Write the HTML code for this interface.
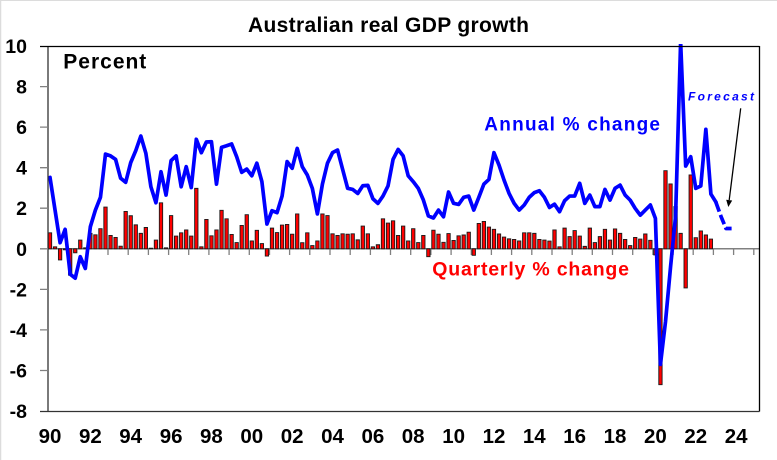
<!DOCTYPE html>
<html>
<head>
<meta charset="utf-8">
<style>
html,body{margin:0;padding:0;background:#fff;}
svg{display:block;}
.b rect{vector-effect:non-scaling-stroke;}
.ln{vector-effect:non-scaling-stroke;}
</style>
</head>
<body>
<svg width="777" height="460" viewBox="0 0 777 460" xmlns="http://www.w3.org/2000/svg" font-family="'Liberation Sans', Arial, sans-serif" font-weight="bold">
<defs>
<clipPath id="c"><rect x="48" y="44" width="711" height="367"/></clipPath>
</defs>
<rect x="0" y="0" width="777" height="460" fill="#fff"/>
<line x1="0" y1="0.5" x2="777" y2="0.5" stroke="#dcdcdc" stroke-width="1"/>
<line x1="0.5" y1="0" x2="0.5" y2="460" stroke="#dcdcdc" stroke-width="1.5"/>

<!-- zero line -->
<line x1="48" y1="248.8" x2="759" y2="248.8" stroke="#808080" stroke-width="1.5"/>
<!-- x ticks -->
<path stroke="#808080" stroke-width="1.3" fill="none" d="M67.7 249v6M87.8 249v6M108 249v6M128.2 249v6M148.4 249v6M168.6 249v6M188.7 249v6M208.9 249v6M229.1 249v6M249.3 249v6M269.5 249v6M289.6 249v6M309.8 249v6M330 249v6M350.2 249v6M370.4 249v6M390.5 249v6M410.7 249v6M430.9 249v6M451.1 249v6M471.3 249v6M491.4 249v6M511.6 249v6M531.8 249v6M552 249v6M572.2 249v6M592.3 249v6M612.5 249v6M632.7 249v6M652.9 249v6M673.1 249v6M693.2 249v6M713.4 249v6M733.6 249v6M753.8 249v6"/>

<g clip-path="url(#c)">
<g transform="translate(50 248.8) scale(5.045 -20.28)">
<g class="b" fill="#ff0000" stroke="#1a1a1a" stroke-width="0.9">
<rect x="-.33" y="0" width=".66" height=".79"/>
<rect x=".67" y="0" width=".66" height=".1"/>
<rect x="1.67" y="-.55" width=".66" height=".55"/>
<rect x="2.67" y="-.05" width=".66" height=".05"/>
<rect x="3.67" y="-1.3" width=".66" height="1.3"/>
<rect x="4.67" y="-.2" width=".66" height=".2"/>
<rect x="5.67" y="0" width=".66" height=".43"/>
<rect x="6.67" y="0" width=".66" height=".05"/>
<rect x="7.67" y="0" width=".66" height=".76"/>
<rect x="8.67" y="0" width=".66" height=".69"/>
<rect x="9.67" y="0" width=".66" height=".99"/>
<rect x="10.67" y="0" width=".66" height="2.06"/>
<rect x="11.67" y="0" width=".66" height=".66"/>
<rect x="12.67" y="0" width=".66" height=".56"/>
<rect x="13.67" y="0" width=".66" height=".13"/>
<rect x="14.67" y="0" width=".66" height="1.84"/>
<rect x="15.67" y="0" width=".66" height="1.63"/>
<rect x="16.67" y="0" width=".66" height="1.18"/>
<rect x="17.67" y="0" width=".66" height=".76"/>
<rect x="18.67" y="0" width=".66" height="1.05"/>
<rect x="19.67" y="0" width=".66" height=".03"/>
<rect x="20.67" y="0" width=".66" height=".43"/>
<rect x="21.67" y="0" width=".66" height="2.27"/>
<rect x="22.67" y="0" width=".66" height=".05"/>
<rect x="23.67" y="0" width=".66" height="1.64"/>
<rect x="24.67" y="0" width=".66" height=".63"/>
<rect x="25.67" y="0" width=".66" height=".79"/>
<rect x="26.67" y="0" width=".66" height=".93"/>
<rect x="27.67" y="0" width=".66" height=".63"/>
<rect x="28.67" y="0" width=".66" height="2.98"/>
<rect x="29.67" y="0" width=".66" height=".1"/>
<rect x="30.67" y="0" width=".66" height="1.45"/>
<rect x="31.67" y="0" width=".66" height=".64"/>
<rect x="32.67" y="0" width=".66" height=".93"/>
<rect x="33.67" y="0" width=".66" height="1.9"/>
<rect x="34.67" y="0" width=".66" height="1.48"/>
<rect x="35.67" y="0" width=".66" height=".71"/>
<rect x="36.67" y="0" width=".66" height=".31"/>
<rect x="37.67" y="0" width=".66" height="1.15"/>
<rect x="38.67" y="0" width=".66" height="1.68"/>
<rect x="39.67" y="0" width=".66" height=".39"/>
<rect x="40.67" y="0" width=".66" height=".91"/>
<rect x="41.67" y="0" width=".66" height=".26"/>
<rect x="42.67" y="-.36" width=".66" height=".36"/>
<rect x="43.67" y="0" width=".66" height="1.02"/>
<rect x="44.67" y="0" width=".66" height=".8"/>
<rect x="45.67" y="0" width=".66" height="1.17"/>
<rect x="46.67" y="0" width=".66" height="1.2"/>
<rect x="47.67" y="0" width=".66" height=".72"/>
<rect x="48.67" y="0" width=".66" height="1.72"/>
<rect x="49.67" y="0" width=".66" height=".3"/>
<rect x="50.67" y="0" width=".66" height=".79"/>
<rect x="51.67" y="0" width=".66" height=".16"/>
<rect x="52.67" y="0" width=".66" height=".39"/>
<rect x="53.67" y="0" width=".66" height="1.72"/>
<rect x="54.67" y="0" width=".66" height="1.64"/>
<rect x="55.67" y="0" width=".66" height=".74"/>
<rect x="56.67" y="0" width=".66" height=".66"/>
<rect x="57.67" y="0" width=".66" height=".74"/>
<rect x="58.67" y="0" width=".66" height=".72"/>
<rect x="59.67" y="0" width=".66" height=".74"/>
<rect x="60.67" y="0" width=".66" height=".44"/>
<rect x="61.67" y="0" width=".66" height="1.12"/>
<rect x="62.67" y="0" width=".66" height=".74"/>
<rect x="63.67" y="0" width=".66" height=".1"/>
<rect x="64.67" y="0" width=".66" height=".2"/>
<rect x="65.67" y="0" width=".66" height="1.48"/>
<rect x="66.67" y="0" width=".66" height="1.27"/>
<rect x="67.67" y="0" width=".66" height="1.38"/>
<rect x="68.67" y="0" width=".66" height=".66"/>
<rect x="69.67" y="0" width=".66" height="1.12"/>
<rect x="70.67" y="0" width=".66" height=".39"/>
<rect x="71.67" y="0" width=".66" height=".99"/>
<rect x="72.67" y="0" width=".66" height=".31"/>
<rect x="73.67" y="0" width=".66" height=".66"/>
<rect x="74.67" y="-.39" width=".66" height=".39"/>
<rect x="75.67" y="0" width=".66" height=".92"/>
<rect x="76.67" y="0" width=".66" height=".72"/>
<rect x="77.67" y="0" width=".66" height=".32"/>
<rect x="78.67" y="0" width=".66" height=".75"/>
<rect x="79.67" y="0" width=".66" height=".41"/>
<rect x="80.67" y="0" width=".66" height=".64"/>
<rect x="81.67" y="0" width=".66" height=".68"/>
<rect x="82.67" y="0" width=".66" height=".82"/>
<rect x="83.67" y="-.32" width=".66" height=".32"/>
<rect x="84.67" y="0" width=".66" height="1.25"/>
<rect x="85.67" y="0" width=".66" height="1.35"/>
<rect x="86.67" y="0" width=".66" height="1.07"/>
<rect x="87.67" y="0" width=".66" height=".96"/>
<rect x="88.67" y="0" width=".66" height=".73"/>
<rect x="89.67" y="0" width=".66" height=".58"/>
<rect x="90.67" y="0" width=".66" height=".49"/>
<rect x="91.67" y="0" width=".66" height=".46"/>
<rect x="92.67" y="0" width=".66" height=".39"/>
<rect x="93.67" y="0" width=".66" height=".79"/>
<rect x="94.67" y="0" width=".66" height=".79"/>
<rect x="95.67" y="0" width=".66" height=".76"/>
<rect x="96.67" y="0" width=".66" height=".46"/>
<rect x="97.67" y="0" width=".66" height=".43"/>
<rect x="98.67" y="0" width=".66" height=".38"/>
<rect x="99.67" y="0" width=".66" height=".93"/>
<rect x="100.67" y="0" width=".66" height=".1"/>
<rect x="101.67" y="0" width=".66" height="1.02"/>
<rect x="102.67" y="0" width=".66" height=".6"/>
<rect x="103.67" y="0" width=".66" height=".9"/>
<rect x="104.67" y="0" width=".66" height=".63"/>
<rect x="105.67" y="0" width=".66" height=".12"/>
<rect x="106.67" y="0" width=".66" height="1.02"/>
<rect x="107.67" y="0" width=".66" height=".31"/>
<rect x="108.67" y="0" width=".66" height=".6"/>
<rect x="109.67" y="0" width=".66" height=".96"/>
<rect x="110.67" y="0" width=".66" height=".43"/>
<rect x="111.67" y="0" width=".66" height=".98"/>
<rect x="112.67" y="0" width=".66" height=".76"/>
<rect x="113.67" y="0" width=".66" height=".46"/>
<rect x="114.67" y="0" width=".66" height=".16"/>
<rect x="115.67" y="0" width=".66" height=".56"/>
<rect x="116.67" y="0" width=".66" height=".48"/>
<rect x="117.67" y="0" width=".66" height=".73"/>
<rect x="118.67" y="0" width=".66" height=".42"/>
<rect x="119.67" y="-.3" width=".66" height=".3"/>
<rect x="120.67" y="-6.7" width=".66" height="6.7"/>
<rect x="121.67" y="0" width=".66" height="3.85"/>
<rect x="122.67" y="0" width=".66" height="3.2"/>
<rect x="123.67" y="0" width=".66" height="2.08"/>
<rect x="124.67" y="0" width=".66" height=".76"/>
<rect x="125.67" y="-1.93" width=".66" height="1.93"/>
<rect x="126.67" y="0" width=".66" height="3.64"/>
<rect x="127.67" y="0" width=".66" height=".55"/>
<rect x="128.67" y="0" width=".66" height=".88"/>
<rect x="129.67" y="0" width=".66" height=".68"/>
<rect x="130.67" y="0" width=".66" height=".48"/>
</g>
<polyline class="ln" fill="none" stroke="#0000ff" stroke-width="3.7" stroke-linejoin="round" stroke-linecap="round" points="0,3.52 1,1.91 2,0.3 3,0.96 4,-1.25 5,-1.45 6,-0.39 7,-0.97 8,1.09 9,1.91 10,2.54 11,4.67 12,4.58 13,4.41 14,3.48 15,3.28 16,4.25 17,4.84 18,5.56 19,4.71 20,3.06 21,2.27 22,3.8 23,2.65 24,4.35 25,4.58 26,3.06 27,4.05 28,3.02 29,5.4 30,4.74 31,5.27 32,5.28 33,3.19 34,5 35,5.08 36,5.17 37,4.54 38,3.77 39,3.93 40,3.6 41,4.22 42,3.31 43,1.22 44,1.88 45,1.78 46,2.6 47,4.3 48,3.97 49,4.95 50,4.05 51,3.64 52,2.98 53,1.72 54,3.19 55,4.22 56,4.74 57,4.87 58,3.92 59,2.98 60,2.93 61,2.73 62,3.11 63,3.13 64,2.47 65,2.24 66,2.6 67,3.1 68,4.41 69,4.9 70,4.58 71,3.6 72,3.31 73,2.98 74,2.41 75,1.62 76,1.52 77,1.91 78,1.58 79,2.8 80,2.24 81,2.19 82,2.54 83,2.6 84,1.91 85,2.54 86,3.19 87,3.42 88,4.74 89,4.13 90,3.39 91,2.73 92,2.24 93,1.91 94,2.16 95,2.54 96,2.77 97,2.86 98,2.54 99,2.04 100,2.2 101,1.83 102,2.37 103,2.6 104,2.6 105,3.23 106,2.24 107,2.65 108,2.08 109,2.08 110,2.93 111,2.4 112,2.98 113,3.14 114,2.65 115,2.4 116,1.99 117,1.66 118,1.91 119,2.16 120,1.5 121,-5.7 122,-3.6 123,-0.9 124,1.6 125,10.2 126,4.08 127,4.54 128,2.98 129,3.1 130,5.89 131,2.7 132,2.3"/>
</g>
</g>

<!-- forecast dashed -->
<path d="M715.9,202.2 L721,216.4 L726,228.5 L731.6,228.5" fill="none" stroke="#0000ff" stroke-width="3.7" stroke-dasharray="10 3.5" stroke-linejoin="round"/>

<!-- axes & border -->
<line x1="48" y1="46" x2="48" y2="411" stroke="#333" stroke-width="1.3"/>
<line x1="40" y1="46.5" x2="759.5" y2="46.5" stroke="#000" stroke-width="1.3"/>
<line x1="759.5" y1="46" x2="759.5" y2="411.5" stroke="#000" stroke-width="1.3"/>
<line x1="40" y1="411.5" x2="759.5" y2="411.5" stroke="#333" stroke-width="1.3"/>
<path stroke="#808080" stroke-width="1.3" d="M40 86.6h8M40 127.1h8M40 167.7h8M40 208.2h8M40 248.8h8M40 289.4h8M40 329.9h8M40 370.5h8"/>

<!-- y labels -->
<g font-size="19.5" fill="#000" text-anchor="end">
<text x="27" y="53">10</text>
<text x="27" y="93.6">8</text>
<text x="27" y="134.1">6</text>
<text x="27" y="174.7">4</text>
<text x="27" y="215.2">2</text>
<text x="27" y="255.8">0</text>
<text x="27" y="296.4">-2</text>
<text x="27" y="336.9">-4</text>
<text x="27" y="377.5">-6</text>
<text x="27" y="418">-8</text>
</g>

<!-- x labels -->
<g font-size="20.5" fill="#000" text-anchor="middle">
<text x="50" y="443">90</text>
<text x="90.4" y="443">92</text>
<text x="130.7" y="443">94</text>
<text x="171.1" y="443">96</text>
<text x="211.4" y="443">98</text>
<text x="251.8" y="443">00</text>
<text x="292.2" y="443">02</text>
<text x="332.5" y="443">04</text>
<text x="372.9" y="443">06</text>
<text x="413.2" y="443">08</text>
<text x="453.6" y="443">10</text>
<text x="494" y="443">12</text>
<text x="534.3" y="443">14</text>
<text x="574.7" y="443">16</text>
<text x="615" y="443">18</text>
<text x="655.4" y="443">20</text>
<text x="695.8" y="443">22</text>
<text x="736.1" y="443">24</text>
</g>

<!-- titles & labels -->
<text x="248" y="32" font-size="21" fill="#000" textLength="281" lengthAdjust="spacing">Australian real GDP growth</text>
<text x="63.3" y="68.3" font-size="21" fill="#000" textLength="83" lengthAdjust="spacing">Percent</text>
<text x="484.3" y="130.7" font-size="19" fill="#0000ff" textLength="175.7" lengthAdjust="spacing">Annual % change</text>
<text x="432.3" y="275.7" font-size="19.5" fill="#ff0000" textLength="196.7" lengthAdjust="spacing">Quarterly % change</text>
<text x="688" y="100.7" font-size="12" font-style="italic" fill="#0000ff" textLength="66" lengthAdjust="spacing">Forecast</text>

<!-- arrow -->
<line x1="740.7" y1="108.3" x2="729.2" y2="200.1" stroke="#000" stroke-width="1.3"/>
<polygon points="728.3,207 732.2,200.5 726.2,199.7" fill="#000"/>
</svg>
</body>
</html>
